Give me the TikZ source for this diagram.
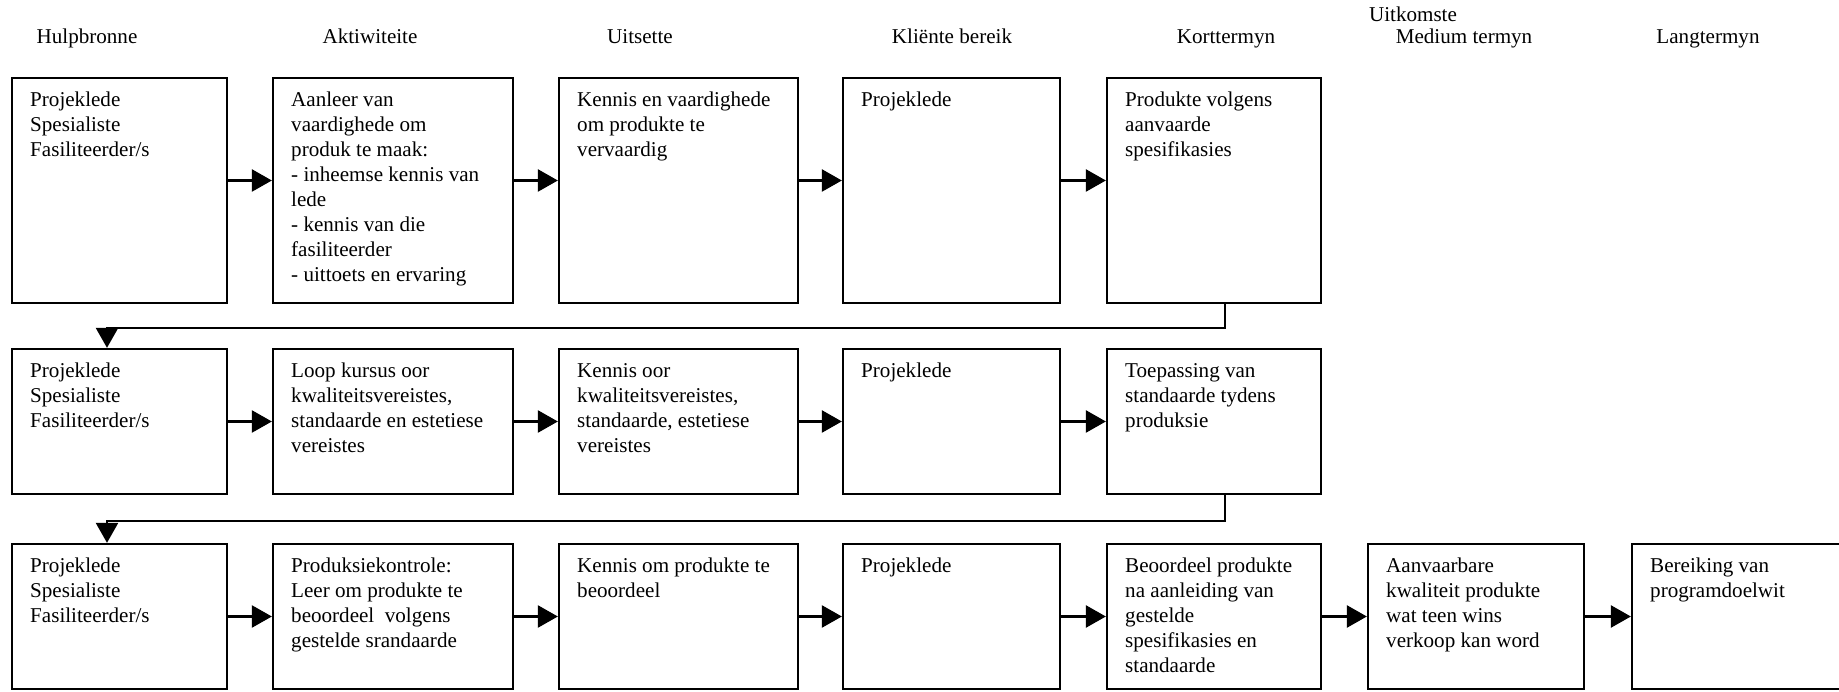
\documentclass[tikz,border=0pt]{standalone}
\usepackage{fontspec}
\setmainfont{Liberation Serif}
\usetikzlibrary{arrows.meta}

\tikzset{
  lm-box/.style={draw, line width=1.3pt, inner sep=0pt},
  lm-text/.style={anchor=north west, align=left, inner xsep=0.38cm, inner ysep=0.3cm},
  lm-head/.style={anchor=base},
  lm-flow/.style={-{Triangle[length=0.4cm, width=0.44cm]}, line width=1.4pt},
}

\begin{document}
\begin{tikzpicture}[
        font=\fontsize{12}{14.2}\selectfont,
        lm-row1/.style={lm-box, minimum height=4.5cm},
        lm-row2/.style={lm-box, minimum height=2.9cm},
        lm-row3/.style={lm-box, minimum height=2.9cm}
    ]
    \useasboundingbox (0,0) rectangle (36.78,-13.84);

    % Headings
    \node[lm-head] (hHulp) at (1.74,-0.87)  {Hulpbronne};
    \node[lm-head] (hAkt)  at (7.40,-0.87)  {Aktiwiteite};
    \node[lm-head] (hUits) at (12.80,-0.87) {Uitsette};
    \node[lm-head] (hKlnt) at (19.04,-0.87) {Kliënte bereik};
    \node[lm-head] (hUitk) at (28.26,-0.44) {Uitkomste};
    \node[lm-head] (hKort) at (24.52,-0.87) {Korttermyn};
    \node[lm-head] (hMed)  at (29.28,-0.87) {Medium termyn};
    \node[lm-head] (hLang) at (34.16,-0.87) {Langtermyn};

    % Row 1
    \node[lm-row1, minimum width=4.30cm, label={[lm-text]north west:{Projeklede\\Spesialiste\\Fasiliteerder/s}}] (hulp1) at (2.39,-3.81) {};
    \node[lm-row1, minimum width=4.80cm, label={[lm-text]north west:{Aanleer van\\vaardighede om\\produk te maak:\\- inheemse kennis van\\lede\\- kennis van die\\fasiliteerder\\- uittoets en ervaring}}] (akt1) at (7.86,-3.81) {};
    \node[lm-row1, minimum width=4.78cm, label={[lm-text]north west:{Kennis en vaardighede\\om produkte te\\vervaardig}}] (uits1) at (13.57,-3.81) {};
    \node[lm-row1, minimum width=4.34cm, label={[lm-text]north west:{Projeklede}}] (klnt1) at (19.03,-3.81) {};
    \node[lm-row1, minimum width=4.28cm, label={[lm-text]north west:{Produkte volgens\\aanvaarde\\spesifikasies}}] (kort1) at (24.28,-3.81) {};

    % Row 2
    \node[lm-row2, minimum width=4.30cm, label={[lm-text]north west:{Projeklede\\Spesialiste\\Fasiliteerder/s}}] (hulp2) at (2.39,-8.43) {};
    \node[lm-row2, minimum width=4.80cm, label={[lm-text]north west:{Loop kursus oor\\kwaliteitsvereistes,\\standaarde en estetiese\\vereistes}}] (akt2) at (7.86,-8.43) {};
    \node[lm-row2, minimum width=4.78cm, label={[lm-text]north west:{Kennis oor\\kwaliteitsvereistes,\\standaarde, estetiese\\vereistes}}] (uits2) at (13.57,-8.43) {};
    \node[lm-row2, minimum width=4.34cm, label={[lm-text]north west:{Projeklede}}] (klnt2) at (19.03,-8.43) {};
    \node[lm-row2, minimum width=4.28cm, label={[lm-text]north west:{Toepassing van\\standaarde tydens\\produksie}}] (kort2) at (24.28,-8.43) {};

    % Row 3
    \node[lm-row3, minimum width=4.30cm, label={[lm-text]north west:{Projeklede\\Spesialiste\\Fasiliteerder/s}}] (hulp3) at (2.39,-12.33) {};
    \node[lm-row3, minimum width=4.80cm, label={[lm-text]north west:{Produksiekontrole:\\Leer om produkte te\\beoordeel\ \ volgens\\gestelde srandaarde}}] (akt3) at (7.86,-12.33) {};
    \node[lm-row3, minimum width=4.78cm, label={[lm-text]north west:{Kennis om produkte te\\beoordeel}}] (uits3) at (13.57,-12.33) {};
    \node[lm-row3, minimum width=4.34cm, label={[lm-text]north west:{Projeklede}}] (klnt3) at (19.03,-12.33) {};
    \node[lm-row3, minimum width=4.28cm, label={[lm-text]north west:{Beoordeel produkte\\na aanleiding van\\gestelde\\spesifikasies en\\standaarde}}] (kort3) at (24.28,-12.33) {};
    \node[lm-row3, minimum width=4.32cm, label={[lm-text]north west:{Aanvaarbare\\kwaliteit produkte\\wat teen wins\\verkoop kan word}}] (med3) at (29.52,-12.33) {};
    \node[lm-row3, minimum width=4.56cm, label={[lm-text]north west:{Bereiking van\\programdoelwit}}] (lang3) at (34.92,-12.33) {};

    % Arrows: row 1
    \draw[lm-flow] ([yshift=2mm]hulp1.east) -- ([yshift=2mm]akt1.west);
    \draw[lm-flow] ([yshift=2mm]akt1.east)  -- ([yshift=2mm]uits1.west);
    \draw[lm-flow] ([yshift=2mm]uits1.east) -- ([yshift=2mm]klnt1.west);
    \draw[lm-flow] ([yshift=2mm]klnt1.east) -- ([yshift=2mm]kort1.west);

    % Arrows: row 2
    \draw[lm-flow] (hulp2) -- (akt2);
    \draw[lm-flow] (akt2)  -- (uits2);
    \draw[lm-flow] (uits2) -- (klnt2);
    \draw[lm-flow] (klnt2) -- (kort2);

    % Arrows: row 3
    \draw[lm-flow] (hulp3) -- (akt3);
    \draw[lm-flow] (akt3)  -- (uits3);
    \draw[lm-flow] (uits3) -- (klnt3);
    \draw[lm-flow] (klnt3) -- (kort3);
    \draw[lm-flow] (kort3) -- (med3);
    \draw[lm-flow] (med3)  -- (lang3);

    % Return lines to the next row
    \draw[lm-flow] ([xshift=2.2mm]kort1.south) -- ++(0,-0.48) -| ([xshift=-2.5mm]hulp2.north);
    \draw[lm-flow] ([xshift=2.2mm]kort2.south) -- ++(0,-0.52) -| ([xshift=-2.5mm]hulp3.north);

\end{tikzpicture}
\end{document}
